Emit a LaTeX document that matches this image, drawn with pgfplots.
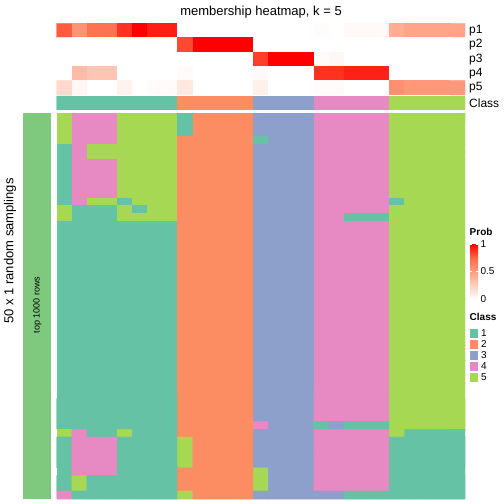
\documentclass[border=0pt]{standalone}
\usepackage{pgfplots}
\pgfplotsset{compat=1.18}
\usepackage{fontspec}
\setmainfont{Liberation Sans}
\definecolor{cA}{RGB}{102,194,165}
\definecolor{cB}{RGB}{252,141,98}
\definecolor{cC}{RGB}{141,160,203}
\definecolor{cD}{RGB}{231,138,195}
\definecolor{cE}{RGB}{166,216,84}
\definecolor{strip}{RGB}{127,201,127}
\pgfplotsset{
  heat/.style={scale only axis, hide axis, enlargelimits=false, anchor=south west,
    y dir=reverse, xmin=-0.5, xmax=26.5},
  classmap/.style={colormap={cls}{rgb255=(255,255,255) rgb255=(102,194,165) rgb255=(252,141,98)
    rgb255=(141,160,203) rgb255=(231,138,195) rgb255=(166,216,84)}, colormap access=direct},
  table/grid27/.style={row sep=\\, x expr={\coordindex-27*floor((\coordindex+0.5)/27)},
    y expr={floor((\coordindex+0.5)/27)}, meta=v},
  myheatcells/.style={matrix plot*, mesh/cols=27, point meta=explicit},
}
\newcommand{\fs}[1]{\fontsize{#1bp}{#1bp}\selectfont}
\begin{document}
\begin{tikzpicture}
\path[use as bounding box] (0,0) rectangle (504bp,504bp);

% ---- probability rows p1..p5
\begin{axis}[heat, at={(56.7bp,409bp)}, width=408.3bp, height=71.7bp, ymin=-0.5, ymax=4.5,
  colormap={prob}{rgb255=(255,255,255) rgb255=(255,207,191) rgb255=(255,158,129) rgb255=(255,103,70) rgb255=(255,0,0)},
  point meta min=0, point meta max=1,
  colorbar,
  colorbar style={scale only axis, at={(parent axis.north east)}, anchor=north west,
    xshift=-3.5bp, yshift=-220.7bp, width=8bp, height=55bp,
    ytick={0,0.5,1}, yticklabels={0,0.5,1}, ytick pos=both, yticklabel pos=right,
    yticklabel style={font=\fs{10}, xshift=-1bp},
    axis line style={draw=none}, major tick length=2bp, tick align=inside,
    tick style={white, line width=0.8bp}}]
\addplot[myheatcells]
 table[grid27] {
v\\
0.78\\0.55\\0.70\\0.70\\0.88\\1.00\\0.93\\0.93\\0\\0\\0\\0\\0\\0\\0\\0\\0\\0.02\\0\\0.03\\0.03\\0.03\\0.42\\0.47\\0.47\\0.47\\0.47\\
0\\0\\0\\0\\0\\0\\0\\0\\0.82\\1\\1\\1\\1\\0\\0\\0\\0\\0\\0\\0\\0\\0\\0\\0\\0\\0\\0\\
0\\0\\0\\0\\0\\0\\0\\0\\0\\0\\0\\0\\0\\0.85\\1\\1\\1\\0.02\\0.04\\0\\0\\0\\0\\0\\0\\0\\0\\
0\\0.35\\0.30\\0.30\\0\\0\\0\\0\\0.02\\0\\0\\0\\0\\0.03\\0\\0\\0\\0.88\\0.88\\0.92\\0.92\\0.92\\0\\0\\0\\0\\0\\
0.20\\0.04\\0\\0\\0.06\\0\\0.02\\0.02\\0.12\\0\\0\\0\\0\\0.08\\0\\0\\0\\0.02\\0.02\\0\\0\\0\\0.57\\0.53\\0.53\\0.53\\0.53\\
};
\end{axis}

% ---- class row
\begin{axis}[heat, classmap, at={(56.7bp,394bp)}, width=408.3bp, height=14bp, ymin=-0.5, ymax=1.5]
\addplot[myheatcells]
 table[grid27] {
v\\
1\\1\\1\\1\\1\\1\\1\\1\\2\\2\\2\\2\\2\\3\\3\\3\\3\\4\\4\\4\\4\\4\\5\\5\\5\\5\\5\\
1\\1\\1\\1\\1\\1\\1\\1\\2\\2\\2\\2\\2\\3\\3\\3\\3\\4\\4\\4\\4\\4\\5\\5\\5\\5\\5\\
};
\end{axis}

% ---- underlay of the 50 samplings, shifted by a fraction of a pixel to hide rendering seams
\begin{axis}[heat, classmap, at={(57.1bp,4.9bp)}, width=407.9bp, height=385.7bp, ymin=-0.5, ymax=49.5]
\addplot[myheatcells]
 table[grid27] {
v\\
5\\4\\4\\4\\5\\5\\5\\5\\1\\2\\2\\2\\2\\3\\3\\3\\3\\4\\4\\4\\4\\4\\5\\5\\5\\5\\5\\
5\\4\\4\\4\\5\\5\\5\\5\\1\\2\\2\\2\\2\\3\\3\\3\\3\\4\\4\\4\\4\\4\\5\\5\\5\\5\\5\\
5\\4\\4\\4\\5\\5\\5\\5\\1\\2\\2\\2\\2\\3\\3\\3\\3\\4\\4\\4\\4\\4\\5\\5\\5\\5\\5\\
5\\4\\4\\4\\5\\5\\5\\5\\2\\2\\2\\2\\2\\1\\3\\3\\3\\4\\4\\4\\4\\4\\5\\5\\5\\5\\5\\
1\\4\\5\\5\\5\\5\\5\\5\\2\\2\\2\\2\\2\\3\\3\\3\\3\\4\\4\\4\\4\\4\\5\\5\\5\\5\\5\\
1\\4\\5\\5\\5\\5\\5\\5\\2\\2\\2\\2\\2\\3\\3\\3\\3\\4\\4\\4\\4\\4\\5\\5\\5\\5\\5\\
1\\4\\4\\4\\5\\5\\5\\5\\2\\2\\2\\2\\2\\3\\3\\3\\3\\4\\4\\4\\4\\4\\5\\5\\5\\5\\5\\
1\\4\\4\\4\\5\\5\\5\\5\\2\\2\\2\\2\\2\\3\\3\\3\\3\\4\\4\\4\\4\\4\\5\\5\\5\\5\\5\\
1\\4\\4\\4\\5\\5\\5\\5\\2\\2\\2\\2\\2\\3\\3\\3\\3\\4\\4\\4\\4\\4\\5\\5\\5\\5\\5\\
1\\4\\4\\4\\5\\5\\5\\5\\2\\2\\2\\2\\2\\3\\3\\3\\3\\4\\4\\4\\4\\4\\5\\5\\5\\5\\5\\
1\\4\\4\\4\\5\\5\\5\\5\\2\\2\\2\\2\\2\\3\\3\\3\\3\\4\\4\\4\\4\\4\\5\\5\\5\\5\\5\\
1\\4\\5\\5\\1\\5\\5\\5\\2\\2\\2\\2\\2\\3\\3\\3\\3\\4\\4\\4\\4\\4\\1\\5\\5\\5\\5\\
5\\1\\1\\1\\5\\1\\5\\5\\2\\2\\2\\2\\2\\3\\3\\3\\3\\4\\4\\4\\4\\4\\5\\5\\5\\5\\5\\
5\\1\\1\\1\\5\\5\\5\\5\\2\\2\\2\\2\\2\\3\\3\\3\\3\\4\\4\\1\\1\\1\\5\\5\\5\\5\\5\\
1\\1\\1\\1\\1\\1\\1\\1\\2\\2\\2\\2\\2\\3\\3\\3\\3\\4\\4\\4\\4\\4\\5\\5\\5\\5\\5\\
1\\1\\1\\1\\1\\1\\1\\1\\2\\2\\2\\2\\2\\3\\3\\3\\3\\4\\4\\4\\4\\4\\5\\5\\5\\5\\5\\
1\\1\\1\\1\\1\\1\\1\\1\\2\\2\\2\\2\\2\\3\\3\\3\\3\\4\\4\\4\\4\\4\\5\\5\\5\\5\\5\\
1\\1\\1\\1\\1\\1\\1\\1\\2\\2\\2\\2\\2\\3\\3\\3\\3\\4\\4\\4\\4\\4\\5\\5\\5\\5\\5\\
1\\1\\1\\1\\1\\1\\1\\1\\2\\2\\2\\2\\2\\3\\3\\3\\3\\4\\4\\4\\4\\4\\5\\5\\5\\5\\5\\
1\\1\\1\\1\\1\\1\\1\\1\\2\\2\\2\\2\\2\\3\\3\\3\\3\\4\\4\\4\\4\\4\\5\\5\\5\\5\\5\\
1\\1\\1\\1\\1\\1\\1\\1\\2\\2\\2\\2\\2\\3\\3\\3\\3\\4\\4\\4\\4\\4\\5\\5\\5\\5\\5\\
1\\1\\1\\1\\1\\1\\1\\1\\2\\2\\2\\2\\2\\3\\3\\3\\3\\4\\4\\4\\4\\4\\5\\5\\5\\5\\5\\
1\\1\\1\\1\\1\\1\\1\\1\\2\\2\\2\\2\\2\\3\\3\\3\\3\\4\\4\\4\\4\\4\\5\\5\\5\\5\\5\\
1\\1\\1\\1\\1\\1\\1\\1\\2\\2\\2\\2\\2\\3\\3\\3\\3\\4\\4\\4\\4\\4\\5\\5\\5\\5\\5\\
1\\1\\1\\1\\1\\1\\1\\1\\2\\2\\2\\2\\2\\3\\3\\3\\3\\4\\4\\4\\4\\4\\5\\5\\5\\5\\5\\
1\\1\\1\\1\\1\\1\\1\\1\\2\\2\\2\\2\\2\\3\\3\\3\\3\\4\\4\\4\\4\\4\\5\\5\\5\\5\\5\\
1\\1\\1\\1\\1\\1\\1\\1\\2\\2\\2\\2\\2\\3\\3\\3\\3\\4\\4\\4\\4\\4\\5\\5\\5\\5\\5\\
1\\1\\1\\1\\1\\1\\1\\1\\2\\2\\2\\2\\2\\3\\3\\3\\3\\4\\4\\4\\4\\4\\5\\5\\5\\5\\5\\
1\\1\\1\\1\\1\\1\\1\\1\\2\\2\\2\\2\\2\\3\\3\\3\\3\\4\\4\\4\\4\\4\\5\\5\\5\\5\\5\\
1\\1\\1\\1\\1\\1\\1\\1\\2\\2\\2\\2\\2\\3\\3\\3\\3\\4\\4\\4\\4\\4\\5\\5\\5\\5\\5\\
1\\1\\1\\1\\1\\1\\1\\1\\2\\2\\2\\2\\2\\3\\3\\3\\3\\4\\4\\4\\4\\4\\5\\5\\5\\5\\5\\
1\\1\\1\\1\\1\\1\\1\\1\\2\\2\\2\\2\\2\\3\\3\\3\\3\\4\\4\\4\\4\\4\\5\\5\\5\\5\\5\\
1\\1\\1\\1\\1\\1\\1\\1\\2\\2\\2\\2\\2\\3\\3\\3\\3\\4\\4\\4\\4\\4\\5\\5\\5\\5\\5\\
1\\1\\1\\1\\1\\1\\1\\1\\2\\2\\2\\2\\2\\3\\3\\3\\3\\4\\4\\4\\4\\4\\5\\5\\5\\5\\5\\
1\\1\\1\\1\\1\\1\\1\\1\\2\\2\\2\\2\\2\\3\\3\\3\\3\\4\\4\\4\\4\\4\\5\\5\\5\\5\\5\\
1\\1\\1\\1\\1\\1\\1\\1\\2\\2\\2\\2\\2\\3\\3\\3\\3\\4\\4\\4\\4\\4\\5\\5\\5\\5\\5\\
1\\1\\1\\1\\1\\1\\1\\1\\2\\2\\2\\2\\2\\3\\3\\3\\3\\4\\4\\4\\4\\4\\5\\5\\5\\5\\5\\
1\\1\\1\\1\\1\\1\\1\\1\\2\\2\\2\\2\\2\\3\\3\\3\\3\\4\\4\\4\\4\\4\\5\\5\\5\\5\\5\\
1\\1\\1\\1\\1\\1\\1\\1\\2\\2\\2\\2\\2\\3\\3\\3\\3\\4\\4\\4\\4\\4\\5\\5\\5\\5\\5\\
1\\1\\1\\1\\1\\1\\1\\1\\2\\2\\2\\2\\2\\3\\3\\3\\3\\4\\4\\4\\4\\4\\5\\5\\5\\5\\5\\
1\\1\\1\\1\\1\\1\\1\\1\\2\\2\\2\\2\\2\\4\\3\\3\\3\\1\\3\\1\\1\\1\\5\\5\\5\\5\\5\\
5\\4\\1\\1\\5\\1\\1\\1\\2\\2\\2\\2\\2\\3\\3\\3\\3\\4\\4\\4\\4\\4\\5\\1\\1\\1\\1\\
1\\4\\4\\4\\1\\1\\1\\1\\5\\2\\2\\2\\2\\3\\3\\3\\3\\4\\4\\4\\4\\4\\1\\1\\1\\1\\1\\
1\\4\\4\\4\\1\\1\\1\\1\\5\\2\\2\\2\\2\\3\\3\\3\\3\\4\\4\\4\\4\\4\\1\\1\\1\\1\\1\\
1\\4\\4\\4\\1\\1\\1\\1\\5\\2\\2\\2\\2\\3\\3\\3\\3\\4\\4\\4\\4\\4\\1\\1\\1\\1\\1\\
1\\4\\4\\4\\1\\1\\1\\1\\5\\2\\2\\2\\2\\3\\3\\3\\3\\4\\4\\4\\4\\4\\1\\1\\1\\1\\1\\
1\\4\\4\\4\\1\\1\\1\\1\\2\\2\\2\\2\\2\\5\\3\\3\\3\\4\\4\\4\\4\\4\\1\\1\\1\\1\\1\\
1\\5\\1\\1\\1\\1\\1\\1\\2\\2\\2\\2\\2\\5\\3\\3\\3\\4\\4\\4\\4\\4\\1\\1\\1\\1\\1\\
1\\5\\1\\1\\1\\1\\1\\1\\2\\2\\2\\2\\2\\5\\3\\3\\3\\4\\4\\4\\4\\4\\1\\1\\1\\1\\1\\
4\\1\\1\\1\\1\\1\\1\\1\\5\\2\\2\\2\\2\\3\\3\\3\\3\\3\\3\\1\\1\\1\\1\\1\\1\\1\\1\\
};
\end{axis}

% ---- 50 random samplings
\begin{axis}[heat, classmap, at={(56.7bp,5.3bp)}, width=408.3bp, height=385.7bp, ymin=-0.5, ymax=49.5]
\addplot[myheatcells]
 table[grid27] {
v\\
5\\4\\4\\4\\5\\5\\5\\5\\1\\2\\2\\2\\2\\3\\3\\3\\3\\4\\4\\4\\4\\4\\5\\5\\5\\5\\5\\
5\\4\\4\\4\\5\\5\\5\\5\\1\\2\\2\\2\\2\\3\\3\\3\\3\\4\\4\\4\\4\\4\\5\\5\\5\\5\\5\\
5\\4\\4\\4\\5\\5\\5\\5\\1\\2\\2\\2\\2\\3\\3\\3\\3\\4\\4\\4\\4\\4\\5\\5\\5\\5\\5\\
5\\4\\4\\4\\5\\5\\5\\5\\2\\2\\2\\2\\2\\1\\3\\3\\3\\4\\4\\4\\4\\4\\5\\5\\5\\5\\5\\
1\\4\\5\\5\\5\\5\\5\\5\\2\\2\\2\\2\\2\\3\\3\\3\\3\\4\\4\\4\\4\\4\\5\\5\\5\\5\\5\\
1\\4\\5\\5\\5\\5\\5\\5\\2\\2\\2\\2\\2\\3\\3\\3\\3\\4\\4\\4\\4\\4\\5\\5\\5\\5\\5\\
1\\4\\4\\4\\5\\5\\5\\5\\2\\2\\2\\2\\2\\3\\3\\3\\3\\4\\4\\4\\4\\4\\5\\5\\5\\5\\5\\
1\\4\\4\\4\\5\\5\\5\\5\\2\\2\\2\\2\\2\\3\\3\\3\\3\\4\\4\\4\\4\\4\\5\\5\\5\\5\\5\\
1\\4\\4\\4\\5\\5\\5\\5\\2\\2\\2\\2\\2\\3\\3\\3\\3\\4\\4\\4\\4\\4\\5\\5\\5\\5\\5\\
1\\4\\4\\4\\5\\5\\5\\5\\2\\2\\2\\2\\2\\3\\3\\3\\3\\4\\4\\4\\4\\4\\5\\5\\5\\5\\5\\
1\\4\\4\\4\\5\\5\\5\\5\\2\\2\\2\\2\\2\\3\\3\\3\\3\\4\\4\\4\\4\\4\\5\\5\\5\\5\\5\\
1\\4\\5\\5\\1\\5\\5\\5\\2\\2\\2\\2\\2\\3\\3\\3\\3\\4\\4\\4\\4\\4\\1\\5\\5\\5\\5\\
5\\1\\1\\1\\5\\1\\5\\5\\2\\2\\2\\2\\2\\3\\3\\3\\3\\4\\4\\4\\4\\4\\5\\5\\5\\5\\5\\
5\\1\\1\\1\\5\\5\\5\\5\\2\\2\\2\\2\\2\\3\\3\\3\\3\\4\\4\\1\\1\\1\\5\\5\\5\\5\\5\\
1\\1\\1\\1\\1\\1\\1\\1\\2\\2\\2\\2\\2\\3\\3\\3\\3\\4\\4\\4\\4\\4\\5\\5\\5\\5\\5\\
1\\1\\1\\1\\1\\1\\1\\1\\2\\2\\2\\2\\2\\3\\3\\3\\3\\4\\4\\4\\4\\4\\5\\5\\5\\5\\5\\
1\\1\\1\\1\\1\\1\\1\\1\\2\\2\\2\\2\\2\\3\\3\\3\\3\\4\\4\\4\\4\\4\\5\\5\\5\\5\\5\\
1\\1\\1\\1\\1\\1\\1\\1\\2\\2\\2\\2\\2\\3\\3\\3\\3\\4\\4\\4\\4\\4\\5\\5\\5\\5\\5\\
1\\1\\1\\1\\1\\1\\1\\1\\2\\2\\2\\2\\2\\3\\3\\3\\3\\4\\4\\4\\4\\4\\5\\5\\5\\5\\5\\
1\\1\\1\\1\\1\\1\\1\\1\\2\\2\\2\\2\\2\\3\\3\\3\\3\\4\\4\\4\\4\\4\\5\\5\\5\\5\\5\\
1\\1\\1\\1\\1\\1\\1\\1\\2\\2\\2\\2\\2\\3\\3\\3\\3\\4\\4\\4\\4\\4\\5\\5\\5\\5\\5\\
1\\1\\1\\1\\1\\1\\1\\1\\2\\2\\2\\2\\2\\3\\3\\3\\3\\4\\4\\4\\4\\4\\5\\5\\5\\5\\5\\
1\\1\\1\\1\\1\\1\\1\\1\\2\\2\\2\\2\\2\\3\\3\\3\\3\\4\\4\\4\\4\\4\\5\\5\\5\\5\\5\\
1\\1\\1\\1\\1\\1\\1\\1\\2\\2\\2\\2\\2\\3\\3\\3\\3\\4\\4\\4\\4\\4\\5\\5\\5\\5\\5\\
1\\1\\1\\1\\1\\1\\1\\1\\2\\2\\2\\2\\2\\3\\3\\3\\3\\4\\4\\4\\4\\4\\5\\5\\5\\5\\5\\
1\\1\\1\\1\\1\\1\\1\\1\\2\\2\\2\\2\\2\\3\\3\\3\\3\\4\\4\\4\\4\\4\\5\\5\\5\\5\\5\\
1\\1\\1\\1\\1\\1\\1\\1\\2\\2\\2\\2\\2\\3\\3\\3\\3\\4\\4\\4\\4\\4\\5\\5\\5\\5\\5\\
1\\1\\1\\1\\1\\1\\1\\1\\2\\2\\2\\2\\2\\3\\3\\3\\3\\4\\4\\4\\4\\4\\5\\5\\5\\5\\5\\
1\\1\\1\\1\\1\\1\\1\\1\\2\\2\\2\\2\\2\\3\\3\\3\\3\\4\\4\\4\\4\\4\\5\\5\\5\\5\\5\\
1\\1\\1\\1\\1\\1\\1\\1\\2\\2\\2\\2\\2\\3\\3\\3\\3\\4\\4\\4\\4\\4\\5\\5\\5\\5\\5\\
1\\1\\1\\1\\1\\1\\1\\1\\2\\2\\2\\2\\2\\3\\3\\3\\3\\4\\4\\4\\4\\4\\5\\5\\5\\5\\5\\
1\\1\\1\\1\\1\\1\\1\\1\\2\\2\\2\\2\\2\\3\\3\\3\\3\\4\\4\\4\\4\\4\\5\\5\\5\\5\\5\\
1\\1\\1\\1\\1\\1\\1\\1\\2\\2\\2\\2\\2\\3\\3\\3\\3\\4\\4\\4\\4\\4\\5\\5\\5\\5\\5\\
1\\1\\1\\1\\1\\1\\1\\1\\2\\2\\2\\2\\2\\3\\3\\3\\3\\4\\4\\4\\4\\4\\5\\5\\5\\5\\5\\
1\\1\\1\\1\\1\\1\\1\\1\\2\\2\\2\\2\\2\\3\\3\\3\\3\\4\\4\\4\\4\\4\\5\\5\\5\\5\\5\\
1\\1\\1\\1\\1\\1\\1\\1\\2\\2\\2\\2\\2\\3\\3\\3\\3\\4\\4\\4\\4\\4\\5\\5\\5\\5\\5\\
1\\1\\1\\1\\1\\1\\1\\1\\2\\2\\2\\2\\2\\3\\3\\3\\3\\4\\4\\4\\4\\4\\5\\5\\5\\5\\5\\
1\\1\\1\\1\\1\\1\\1\\1\\2\\2\\2\\2\\2\\3\\3\\3\\3\\4\\4\\4\\4\\4\\5\\5\\5\\5\\5\\
1\\1\\1\\1\\1\\1\\1\\1\\2\\2\\2\\2\\2\\3\\3\\3\\3\\4\\4\\4\\4\\4\\5\\5\\5\\5\\5\\
1\\1\\1\\1\\1\\1\\1\\1\\2\\2\\2\\2\\2\\3\\3\\3\\3\\4\\4\\4\\4\\4\\5\\5\\5\\5\\5\\
1\\1\\1\\1\\1\\1\\1\\1\\2\\2\\2\\2\\2\\4\\3\\3\\3\\1\\3\\1\\1\\1\\5\\5\\5\\5\\5\\
5\\4\\1\\1\\5\\1\\1\\1\\2\\2\\2\\2\\2\\3\\3\\3\\3\\4\\4\\4\\4\\4\\5\\1\\1\\1\\1\\
1\\4\\4\\4\\1\\1\\1\\1\\5\\2\\2\\2\\2\\3\\3\\3\\3\\4\\4\\4\\4\\4\\1\\1\\1\\1\\1\\
1\\4\\4\\4\\1\\1\\1\\1\\5\\2\\2\\2\\2\\3\\3\\3\\3\\4\\4\\4\\4\\4\\1\\1\\1\\1\\1\\
1\\4\\4\\4\\1\\1\\1\\1\\5\\2\\2\\2\\2\\3\\3\\3\\3\\4\\4\\4\\4\\4\\1\\1\\1\\1\\1\\
1\\4\\4\\4\\1\\1\\1\\1\\5\\2\\2\\2\\2\\3\\3\\3\\3\\4\\4\\4\\4\\4\\1\\1\\1\\1\\1\\
1\\4\\4\\4\\1\\1\\1\\1\\2\\2\\2\\2\\2\\5\\3\\3\\3\\4\\4\\4\\4\\4\\1\\1\\1\\1\\1\\
1\\5\\1\\1\\1\\1\\1\\1\\2\\2\\2\\2\\2\\5\\3\\3\\3\\4\\4\\4\\4\\4\\1\\1\\1\\1\\1\\
1\\5\\1\\1\\1\\1\\1\\1\\2\\2\\2\\2\\2\\5\\3\\3\\3\\4\\4\\4\\4\\4\\1\\1\\1\\1\\1\\
4\\1\\1\\1\\1\\1\\1\\1\\5\\2\\2\\2\\2\\3\\3\\3\\3\\3\\3\\1\\1\\1\\1\\1\\1\\1\\1\\
};
\end{axis}

% ---- frame: annotation strip, labels and class legend (pixel coordinates)
\begin{axis}[scale only axis, hide axis, anchor=south west, at={(0,0)}, width=504bp, height=504bp,
  xmin=0, xmax=504, ymin=0, ymax=504, y dir=reverse, clip=false]
\addplot[fill=strip, draw=none] coordinates {(23,113) (51,113) (51,498.7) (23,498.7)};
\addplot[fill=cA, draw=none] coordinates {(470,328.5) (478,328.5) (478,337.5) (470,337.5)};
\addplot[fill=cB, draw=none] coordinates {(470,339.5) (478,339.5) (478,348.5) (470,348.5)};
\addplot[fill=cC, draw=none] coordinates {(470,350.5) (478,350.5) (478,359.5) (470,359.5)};
\addplot[fill=cD, draw=none] coordinates {(470,361.5) (478,361.5) (478,370.5) (470,370.5)};
\addplot[fill=cE, draw=none] coordinates {(470,372.5) (478,372.5) (478,381.5) (470,381.5)};
\node[font=\fs{13}] at (axis cs:261,12) {membership heatmap, k = 5};
\node[font=\fs{12}, anchor=west, inner sep=0pt] at (axis cs:469,30.5) {p1};
\node[font=\fs{12}, anchor=west, inner sep=0pt] at (axis cs:469,44.8) {p2};
\node[font=\fs{12}, anchor=west, inner sep=0pt] at (axis cs:469,59.2) {p3};
\node[font=\fs{12}, anchor=west, inner sep=0pt] at (axis cs:469,73.5) {p4};
\node[font=\fs{12}, anchor=west, inner sep=0pt] at (axis cs:469,87.8) {p5};
\node[font=\fs{12}, anchor=west, inner sep=0pt] at (axis cs:469,103) {Class};
\node[font=\fs{13}, rotate=90] at (axis cs:10,251) {50 x 1 random samplings};
\node[font=\fs{9}, rotate=90] at (axis cs:37.5,305) {top 1000 rows};
\node[font=\bfseries\fs{10}, anchor=west, inner sep=0pt] at (axis cs:469.5,232) {Prob};
\node[font=\bfseries\fs{10}, anchor=west, inner sep=0pt] at (axis cs:469.5,317) {Class};
\node[font=\fs{10}, anchor=west, inner sep=0pt] at (axis cs:481,333) {1};
\node[font=\fs{10}, anchor=west, inner sep=0pt] at (axis cs:481,344) {2};
\node[font=\fs{10}, anchor=west, inner sep=0pt] at (axis cs:481,355) {3};
\node[font=\fs{10}, anchor=west, inner sep=0pt] at (axis cs:481,366) {4};
\node[font=\fs{10}, anchor=west, inner sep=0pt] at (axis cs:481,377) {5};
\end{axis}
\end{tikzpicture}
\end{document}
